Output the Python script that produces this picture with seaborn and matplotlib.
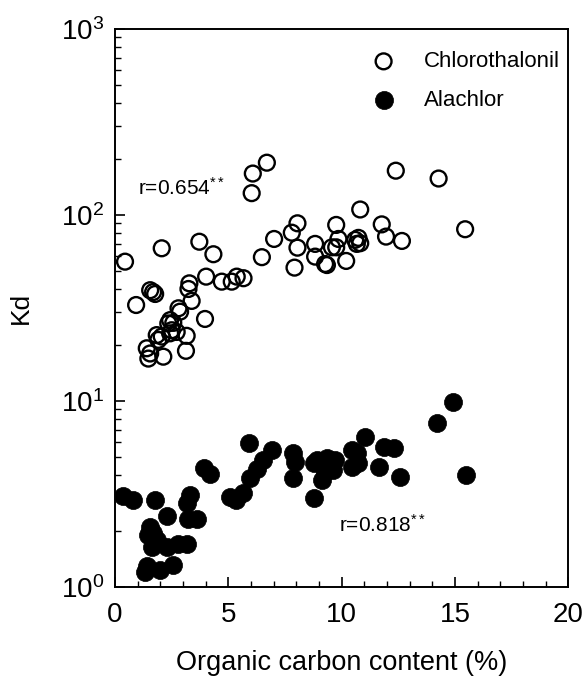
import matplotlib
matplotlib.use("Agg")
import matplotlib.pyplot as plt
import seaborn as sns
import numpy as np
from matplotlib.ticker import MultipleLocator, LogLocator, NullFormatter

# Chlorothalonil (open circles)
chl_oc = [2.06, 0.44, 3.72, 4.34, 6.08, 6.03, 6.70, 6.48, 0.93, 1.68, 1.55, 1.77,
          3.28, 3.24, 3.38, 4.02, 4.71, 5.15, 5.37, 5.67, 3.97, 2.80, 2.87, 2.43,
          2.35, 2.57, 3.16, 1.84, 2.06, 2.43, 2.72, 2.50, 3.13, 1.40, 1.55, 1.47,
          2.13, 1.91, 12.39, 14.28, 15.45, 10.82, 11.77, 11.96, 12.66, 10.60, 10.74,
          10.82, 10.67, 9.76, 9.86, 9.57, 9.76, 8.83, 8.83, 9.27, 9.35, 10.20, 8.05,
          7.80, 8.05, 7.92, 7.02]
chl_kd = [66.2, 56.1, 71.8, 61.5, 167, 131, 191, 59.3, 32.8, 38.5, 39.4, 37.6,
          42.9, 40.0, 34.5, 46.6, 43.8, 43.8, 46.6, 45.7, 27.6, 31.5, 30.2, 27.2,
          26.1, 26.3, 22.4, 22.6, 22.2, 23.1, 23.5, 24.0, 18.6, 19.2, 18.0, 16.9,
          17.3, 21.3, 173, 157, 83.8, 107, 89, 76.5, 72.5, 73.5, 75.3,
          70.5, 69.9, 88.4, 74.3, 67, 67, 69.9, 59.7, 54.5, 53.8, 56.6, 90.2,
          80.3, 66.7, 52.1, 74.3]

# Alachlor (filled circles)
ala_oc = [5.93, 6.92, 6.55, 6.26, 5.96, 3.94, 4.19, 0.37, 0.81, 1.77, 3.31, 3.16,
          5.08, 5.34, 5.64, 2.31, 3.24, 3.63, 1.55, 1.69, 1.47, 1.84, 1.62, 2.28,
          2.80, 3.16, 1.40, 1.99, 2.57, 1.32, 14.20, 14.91, 15.50, 11.04, 11.85,
          12.29, 11.63, 12.58, 10.45, 10.67, 10.45, 10.74, 9.71, 9.35, 8.91, 8.76,
          9.64, 9.27, 9.13, 8.76, 7.87, 7.95, 7.87]
ala_kd = [5.97, 5.45, 4.82, 4.30, 3.84, 4.35, 4.05, 3.08, 2.94, 2.94, 3.12, 2.82,
          3.06, 2.94, 3.19, 2.41, 2.32, 2.32, 2.11, 1.94, 1.90, 1.79, 1.65, 1.65,
          1.70, 1.70, 1.29, 1.23, 1.31, 1.21, 7.59, 9.91, 4.00, 6.43, 5.68,
          5.57, 4.43, 3.92, 5.45, 5.22, 4.43, 4.62, 4.82, 4.92, 4.82, 4.62,
          4.26, 4.17, 3.76, 3.00, 5.22, 4.72, 3.84]

series_labels = ["Chlorothalonil", "Alachlor"]
r_labels = ["r=0.654", "r=0.818"]
x_ticks = [0, 5, 10, 15, 20]

sns.set_style("ticks")
FONT = ["Liberation Sans Narrow", "Liberation Sans", "DejaVu Sans"]
plt.rcParams["font.family"] = FONT
plt.rcParams["mathtext.fontset"] = "custom"
plt.rcParams["mathtext.rm"] = "Liberation Sans"
plt.rcParams["mathtext.it"] = "Liberation Sans"
for k in ["text.color", "axes.labelcolor", "xtick.color", "ytick.color", "axes.edgecolor"]:
    plt.rcParams[k] = "black"

fig = plt.figure(figsize=(5.84, 6.83), dpi=100)
ax = fig.add_axes([0.197, 0.1406, 0.776, 0.817])

sns.scatterplot(x=chl_oc, y=chl_kd, ax=ax, marker="o", s=130,
                facecolors="none", edgecolor="black", linewidth=1.7,
                label=series_labels[0])
sns.scatterplot(x=ala_oc, y=ala_kd, ax=ax, marker="o", s=170,
                color="black", edgecolor="black", linewidth=0.5,
                label=series_labels[1])

ax.set_yscale("log")
ax.set_xlim(0, 20)
ax.set_ylim(1, 1000)
ax.set_xticks(x_ticks)
ax.xaxis.set_minor_locator(MultipleLocator(1))
ax.yaxis.set_minor_locator(LogLocator(base=10, subs=np.arange(2, 10)))
ax.yaxis.set_minor_formatter(NullFormatter())
ax.tick_params(axis="both", which="major", direction="in", length=7, width=1.2,
               labelsize=20, pad=8)
ax.tick_params(axis="x", which="major", pad=11)
ax.tick_params(axis="both", which="minor", direction="in", length=4, width=1)
for sp in ax.spines.values():
    sp.set_linewidth(1.4)
    sp.set_visible(True)

ax.set_xlabel("Organic carbon content (%)", fontsize=19.5, labelpad=16)
ax.set_ylabel("Kd", fontsize=19, labelpad=20)

ax.text(1.0, 140, r_labels[0] + r"$^{**}$", fontsize=15, va="center", ha="left")
ax.text(9.9, 2.15, r_labels[1] + r"$^{**}$", fontsize=15, va="center", ha="left")

leg = ax.legend(loc="upper right", bbox_to_anchor=(1.03, 1.0), frameon=False,
                fontsize=16, handletextpad=0.8, labelspacing=0.8,
                borderaxespad=0.6)

fig.savefig("out.png", dpi=100)
